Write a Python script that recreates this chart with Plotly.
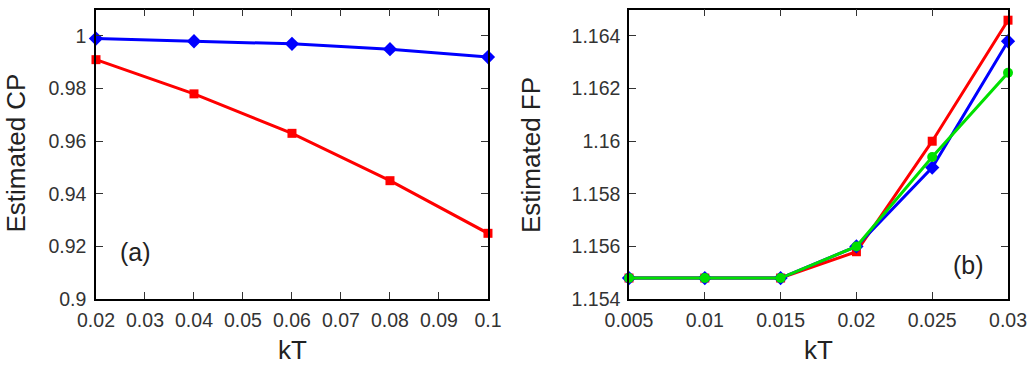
import plotly.graph_objects as go

kt_a = [0.02, 0.04, 0.06, 0.08, 0.1]
cp_blue = [0.999, 0.998, 0.997, 0.995, 0.992]
cp_red = [0.991, 0.978, 0.963, 0.945, 0.925]

kt_b = [0.005, 0.01, 0.015, 0.02, 0.025, 0.03]
fp_red = [1.1548, 1.1548, 1.1548, 1.1558, 1.1600, 1.1646]
fp_blue = [1.1548, 1.1548, 1.1548, 1.1560, 1.1590, 1.1638]
fp_green = [1.1548, 1.1548, 1.1548, 1.1560, 1.1594, 1.1626]

xticks_a = [0.02, 0.03, 0.04, 0.05, 0.06, 0.07, 0.08, 0.09, 0.1]
xlabels_a = ["0.02", "0.03", "0.04", "0.05", "0.06", "0.07", "0.08", "0.09", "0.1"]
yticks_a = [0.9, 0.92, 0.94, 0.96, 0.98, 1.0]
ylabels_a = ["0.9", "0.92", "0.94", "0.96", "0.98", "1"]
xticks_b = [0.005, 0.01, 0.015, 0.02, 0.025, 0.03]
xlabels_b = ["0.005", "0.01", "0.015", "0.02", "0.025", "0.03"]
yticks_b = [1.154, 1.156, 1.158, 1.16, 1.162, 1.164]
ylabels_b = ["1.154", "1.156", "1.158", "1.16", "1.162", "1.164"]

BLUE = "#0000ff"
RED = "#ff0000"
GREEN = "#00e000"
FAM = "Liberation Sans, Arial, sans-serif"

fig = go.Figure()

def line(x, y, color, symbol, size, xa, ya):
    fig.add_trace(go.Scatter(x=x, y=y, mode="lines+markers",
                             line=dict(color=color, width=3),
                             marker=dict(color=color, symbol=symbol, size=size),
                             xaxis=xa, yaxis=ya, showlegend=False, cliponaxis=False))

line(kt_a, cp_blue, BLUE, "diamond", 11, "x", "y")
line(kt_a, cp_red, RED, "square", 9, "x", "y")
line(kt_b, fp_red, RED, "square", 9, "x2", "y2")
line(kt_b, fp_blue, BLUE, "diamond", 11, "x2", "y2")
line(kt_b, fp_green, GREEN, "circle", 10, "x2", "y2")

axcommon = dict(showline=True, linecolor="black", linewidth=1.5, mirror="ticks",
                ticks="inside", ticklen=7, tickwidth=1.2, tickcolor="#333333",
                showgrid=False, zeroline=False, automargin=False,
                tickfont=dict(size=19.5, family=FAM, color="#333333"))
tfont = dict(size=26, family=FAM, color="#222222")

fig.update_layout(
    width=1031, height=372,
    margin=dict(l=0, r=0, t=0, b=0),
    paper_bgcolor="white", plot_bgcolor="white",
    xaxis=dict(domain=[0.0931, 0.4733], range=[0.02, 0.1], tickvals=xticks_a,
               ticktext=xlabels_a, anchor="y", ticklabelstandoff=3, **axcommon),
    yaxis=dict(domain=[0.196, 0.974], range=[0.9, 1.01], tickvals=yticks_a,
               ticktext=ylabels_a, anchor="x", ticklabelstandoff=4, **axcommon),
    xaxis2=dict(domain=[0.6101, 0.9777], range=[0.005, 0.03], tickvals=xticks_b,
                ticktext=xlabels_b, anchor="y2", ticklabelstandoff=3, **axcommon),
    yaxis2=dict(domain=[0.196, 0.974], range=[1.154, 1.165], tickvals=yticks_b,
                ticktext=ylabels_b, anchor="x2", ticklabelstandoff=3, **axcommon),
    annotations=[
        dict(text="(a)", x=0.028, y=0.918, xref="x", yref="y", showarrow=False,
             font=dict(size=25, family=FAM, color="#222222")),
        dict(text="(b)", x=0.0274, y=1.1553, xref="x2", yref="y2", showarrow=False,
             font=dict(size=25, family=FAM, color="#222222")),
        dict(text="Estimated CP", x=15.5 / 1031, y=1 - 153 / 372, xref="paper", yref="paper",
             xanchor="center", yanchor="middle",
             textangle=-90, showarrow=False, font=tfont),
        dict(text="Estimated FP", x=531 / 1031, y=1 - 155 / 372, xref="paper", yref="paper",
             xanchor="center", yanchor="middle",
             textangle=-90, showarrow=False, font=tfont),
        dict(text="kT", x=292 / 1031, y=1 - 350 / 372, xref="paper", yref="paper",
             xanchor="center", yanchor="middle", showarrow=False, font=tfont),
        dict(text="kT", x=818 / 1031, y=1 - 350 / 372, xref="paper", yref="paper",
             xanchor="center", yanchor="middle", showarrow=False, font=tfont),
    ],
)

fig.write_html("out.html")
